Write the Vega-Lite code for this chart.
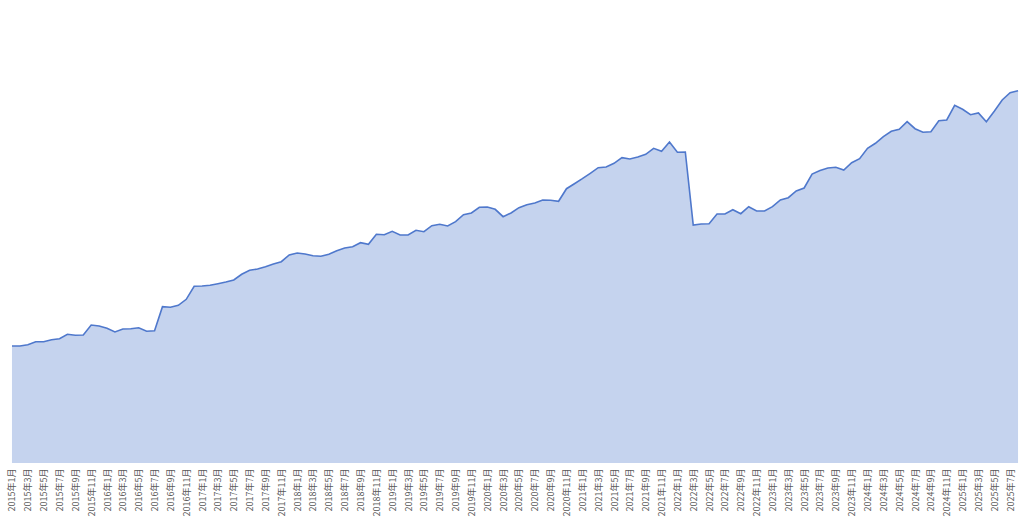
{
  "$schema": "https://vega.github.io/schema/vega-lite/v6.json",
  "autosize": "none",
  "width": 1014,
  "height": 463,
  "padding": {"left": 8, "top": 0, "right": 2, "bottom": 54},
  "background": "white",
  "config": {"view": {"stroke": null}},
  "data": {"values": [
    {"m":"2015年1月","v":117},{"m":"2015年2月","v":117},{"m":"2015年3月","v":118.3},{"m":"2015年4月","v":121.3},{"m":"2015年5月","v":121.3},{"m":"2015年6月","v":123.3},{"m":"2015年7月","v":124.3},{"m":"2015年8月","v":128.7},{"m":"2015年9月","v":127.7},{"m":"2015年10月","v":128},{"m":"2015年11月","v":138},{"m":"2015年12月","v":137},
    {"m":"2016年1月","v":134.7},{"m":"2016年2月","v":131},{"m":"2016年3月","v":134},{"m":"2016年4月","v":134.3},{"m":"2016年5月","v":135.3},{"m":"2016年6月","v":131.7},{"m":"2016年7月","v":132.3},{"m":"2016年8月","v":156.3},{"m":"2016年9月","v":155.7},{"m":"2016年10月","v":157.7},{"m":"2016年11月","v":163.7},{"m":"2016年12月","v":176.7},
    {"m":"2017年1月","v":177},{"m":"2017年2月","v":177.7},{"m":"2017年3月","v":179.3},{"m":"2017年4月","v":181},{"m":"2017年5月","v":183},{"m":"2017年6月","v":188.7},{"m":"2017年7月","v":192.7},{"m":"2017年8月","v":194},{"m":"2017年9月","v":196.3},{"m":"2017年10月","v":199},{"m":"2017年11月","v":201.3},{"m":"2017年12月","v":208},
    {"m":"2018年1月","v":210},{"m":"2018年2月","v":209},{"m":"2018年3月","v":207.3},{"m":"2018年4月","v":206.7},{"m":"2018年5月","v":208.7},{"m":"2018年6月","v":212.3},{"m":"2018年7月","v":215},{"m":"2018年8月","v":216.3},{"m":"2018年9月","v":220.3},{"m":"2018年10月","v":218.7},{"m":"2018年11月","v":228.7},{"m":"2018年12月","v":228.3},
    {"m":"2019年1月","v":231.7},{"m":"2019年2月","v":228},{"m":"2019年3月","v":228},{"m":"2019年4月","v":232.7},{"m":"2019年5月","v":231.3},{"m":"2019年6月","v":237.3},{"m":"2019年7月","v":238.7},{"m":"2019年8月","v":237},{"m":"2019年9月","v":241.3},{"m":"2019年10月","v":248.3},{"m":"2019年11月","v":250},{"m":"2019年12月","v":255.7},
    {"m":"2020年1月","v":256},{"m":"2020年2月","v":253.7},{"m":"2020年3月","v":246.3},{"m":"2020年4月","v":250},{"m":"2020年5月","v":255.3},{"m":"2020年6月","v":258.3},{"m":"2020年7月","v":260},{"m":"2020年8月","v":263},{"m":"2020年9月","v":262.7},{"m":"2020年10月","v":261.7},{"m":"2020年11月","v":274.3},{"m":"2020年12月","v":279.3},
    {"m":"2021年1月","v":284.3},{"m":"2021年2月","v":289.7},{"m":"2021年3月","v":295.3},{"m":"2021年4月","v":296},{"m":"2021年5月","v":299.7},{"m":"2021年6月","v":305.3},{"m":"2021年7月","v":304},{"m":"2021年8月","v":306},{"m":"2021年9月","v":308.7},{"m":"2021年10月","v":314.7},{"m":"2021年11月","v":311.7},{"m":"2021年12月","v":321},
    {"m":"2022年1月","v":310.7},{"m":"2022年2月","v":311},{"m":"2022年3月","v":238},{"m":"2022年4月","v":239},{"m":"2022年5月","v":239.3},{"m":"2022年6月","v":249},{"m":"2022年7月","v":249},{"m":"2022年8月","v":253.3},{"m":"2022年9月","v":249.3},{"m":"2022年10月","v":256.3},{"m":"2022年11月","v":252},{"m":"2022年12月","v":252},
    {"m":"2023年1月","v":256.3},{"m":"2023年2月","v":263},{"m":"2023年3月","v":265.3},{"m":"2023年4月","v":272},{"m":"2023年5月","v":275},{"m":"2023年6月","v":289},{"m":"2023年7月","v":292.5},{"m":"2023年8月","v":295},{"m":"2023年9月","v":295.7},{"m":"2023年10月","v":293},{"m":"2023年11月","v":300.3},{"m":"2023年12月","v":304.3},
    {"m":"2024年1月","v":314.7},{"m":"2024年2月","v":319.7},{"m":"2024年3月","v":326.3},{"m":"2024年4月","v":331.7},{"m":"2024年5月","v":333.7},{"m":"2024年6月","v":341.3},{"m":"2024年7月","v":334.3},{"m":"2024年8月","v":330.7},{"m":"2024年9月","v":331.3},{"m":"2024年10月","v":342.3},{"m":"2024年11月","v":343},{"m":"2024年12月","v":357.7},
    {"m":"2025年1月","v":353.7},{"m":"2025年2月","v":348.3},{"m":"2025年3月","v":350},{"m":"2025年4月","v":341.3},{"m":"2025年5月","v":351.7},{"m":"2025年6月","v":363},{"m":"2025年7月","v":370.3},{"m":"2025年8月","v":372.3}
  ]},
  "mark": {"type": "area", "color": "#c5d3ee", "opacity": 1, "fillOpacity": 1, "line": {"color": "#4f78cc", "strokeWidth": 1.6}},
  "encoding": {
    "x": {
      "field": "m", "type": "ordinal", "sort": null,
      "scale": {"type": "point", "padding": 0.5},
      "axis": {
        "title": null, "domain": false, "ticks": false, "grid": false,
        "labelAngle": -90, "labelFontSize": 9, "labelColor": "#595959",
        "labelFont": "Noto Sans CJK JP", "labelPadding": 5, "labelOverlap": false,
        "values": ["2015年1月","2015年3月","2015年5月","2015年7月","2015年9月","2015年11月","2016年1月","2016年3月","2016年5月","2016年7月","2016年9月","2016年11月","2017年1月","2017年3月","2017年5月","2017年7月","2017年9月","2017年11月","2018年1月","2018年3月","2018年5月","2018年7月","2018年9月","2018年11月","2019年1月","2019年3月","2019年5月","2019年7月","2019年9月","2019年11月","2020年1月","2020年3月","2020年5月","2020年7月","2020年9月","2020年11月","2021年1月","2021年3月","2021年5月","2021年7月","2021年9月","2021年11月","2022年1月","2022年3月","2022年5月","2022年7月","2022年9月","2022年11月","2023年1月","2023年3月","2023年5月","2023年7月","2023年9月","2023年11月","2024年1月","2024年3月","2024年5月","2024年7月","2024年9月","2024年11月","2025年1月","2025年3月","2025年5月","2025年7月"]
      }
    },
    "y": {
      "field": "v", "type": "quantitative",
      "scale": {"domain": [0, 463], "nice": false, "zero": true},
      "axis": null
    }
  }
}
